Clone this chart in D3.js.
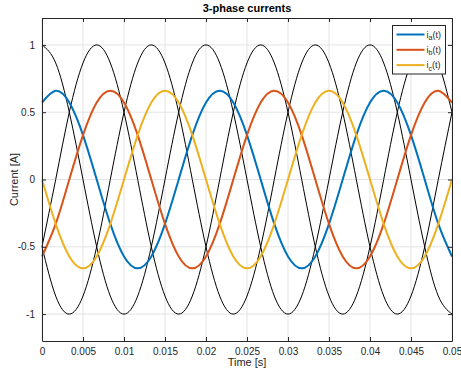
<!DOCTYPE html>
<html>
<head>
<meta charset="utf-8">
<script src="https://cdn.jsdelivr.net/npm/d3@7"></script>
<style>
  body { margin: 0; background: #fff; }
  svg { font-family: "Liberation Sans", Arial, Helvetica, sans-serif; }
</style>
</head>
<body>
<div id="chart"></div>
<script>
// chart size
var svgWidth = 461;
var svgHeight = 370;
var margin = { top: 18, right: 9, bottom: 29, left: 42 };
var chartWidth = svgWidth - margin.left - margin.right;
var chartHeight = svgHeight - margin.top - margin.bottom;

// data - samples every 1/600 s (30 deg of a 50 Hz wave)
var time = [0, 0.00167, 0.00333, 0.005, 0.00667, 0.00833, 0.01, 0.01167, 0.01333, 0.015,
    0.01667, 0.01833, 0.02, 0.02167, 0.02333, 0.025, 0.02667, 0.02833, 0.03, 0.03167,
    0.03333, 0.035, 0.03667, 0.03833, 0.04, 0.04167, 0.04333, 0.045, 0.04667, 0.04833, 0.05];

// black reference curves (amplitude 1)
var refA = [1, 0.866, 0.5, 0, -0.5, -0.866, -1, -0.866, -0.5, 0, 0.5, 0.866,
    1, 0.866, 0.5, 0, -0.5, -0.866, -1, -0.866, -0.5, 0, 0.5, 0.866,
    1, 0.866, 0.5, 0, -0.5, -0.866, -1];
var refB = [-0.5, 0, 0.5, 0.866, 1, 0.866, 0.5, 0, -0.5, -0.866, -1, -0.866,
    -0.5, 0, 0.5, 0.866, 1, 0.866, 0.5, 0, -0.5, -0.866, -1, -0.866,
    -0.5, 0, 0.5, 0.866, 1, 0.866, 0.5];
var refC = [-0.5, -0.866, -1, -0.866, -0.5, 0, 0.5, 0.866, 1, 0.866, 0.5, 0,
    -0.5, -0.866, -1, -0.866, -0.5, 0, 0.5, 0.866, 1, 0.866, 0.5, 0,
    -0.5, -0.866, -1, -0.866, -0.5, 0, 0.5];

// phase currents
var ia = [0.572, 0.66, 0.572, 0.33, 0, -0.33, -0.572, -0.66, -0.572, -0.33, 0, 0.33,
    0.572, 0.66, 0.572, 0.33, 0, -0.33, -0.572, -0.66, -0.572, -0.33, 0, 0.33,
    0.572, 0.66, 0.572, 0.33, 0, -0.33, -0.572];
var ib = [-0.572, -0.33, 0, 0.33, 0.572, 0.66, 0.572, 0.33, 0, -0.33, -0.572, -0.66,
    -0.572, -0.33, 0, 0.33, 0.572, 0.66, 0.572, 0.33, 0, -0.33, -0.572, -0.66,
    -0.572, -0.33, 0, 0.33, 0.572, 0.66, 0.572];
var ic = [0, -0.33, -0.572, -0.66, -0.572, -0.33, 0, 0.33, 0.572, 0.66, 0.572, 0.33,
    0, -0.33, -0.572, -0.66, -0.572, -0.33, 0, 0.33, 0.572, 0.66, 0.572, 0.33,
    0, -0.33, -0.572, -0.66, -0.572, -0.33, 0];

var xTicks = [0, 0.005, 0.01, 0.015, 0.02, 0.025, 0.03, 0.035, 0.04, 0.045, 0.05];
var yTicks = [-1, -0.5, 0, 0.5, 1];
var seriesNames = ["a", "b", "c"];
var seriesColors = ["#0072BD", "#D95319", "#EDB120"];

var axisColor = "#262626";

var svg = d3.select("#chart")
    .append("svg")
    .attr("width", svgWidth)
    .attr("height", svgHeight);

var chartGroup = svg.append("g")
    .attr("transform", `translate(${margin.left}, ${margin.top})`);

// scales
var xScale = d3.scaleLinear().domain([0, 0.05]).range([0, chartWidth]);
var yScale = d3.scaleLinear().domain([-1.2, 1.2]).range([chartHeight, 0]);

// grid
chartGroup.append("g")
    .selectAll("line")
    .data(xTicks)
    .enter()
    .append("line")
    .attr("x1", d => xScale(d)).attr("x2", d => xScale(d))
    .attr("y1", 0).attr("y2", chartHeight)
    .attr("stroke", "#e3e3e3")
    .attr("stroke-width", 1);
chartGroup.append("g")
    .selectAll("line")
    .data(yTicks)
    .enter()
    .append("line")
    .attr("x1", 0).attr("x2", chartWidth)
    .attr("y1", d => yScale(d)).attr("y2", d => yScale(d))
    .attr("stroke", "#e3e3e3")
    .attr("stroke-width", 1);

// curves
function makeLine(values) {
    return d3.line()
        .x((d, i) => xScale(time[i]))
        .y(d => yScale(d))
        .curve(d3.curveNatural)(values);
}

var plotGroup = chartGroup.append("g");
[refA, refB, refC].forEach(function (vals) {
    plotGroup.append("path")
        .attr("d", makeLine(vals))
        .attr("fill", "none")
        .attr("stroke", "#000")
        .attr("stroke-width", 1);
});
[ia, ib, ic].forEach(function (vals, i) {
    plotGroup.append("path")
        .attr("d", makeLine(vals))
        .attr("fill", "none")
        .attr("stroke", seriesColors[i])
        .attr("stroke-width", 2);
});

// axes (ticks inside, box on)
var fmt = d => String(d);
var bottomAxis = d3.axisBottom(xScale).tickValues(xTicks).tickFormat(fmt).tickSizeInner(-4).tickSizeOuter(0).tickPadding(7);
var topAxis = d3.axisTop(xScale).tickValues(xTicks).tickFormat("").tickSizeInner(-4).tickSizeOuter(0);
var leftAxis = d3.axisLeft(yScale).tickValues(yTicks).tickFormat(fmt).tickSizeInner(-4).tickSizeOuter(0).tickPadding(7);
var rightAxis = d3.axisRight(yScale).tickValues(yTicks).tickFormat("").tickSizeInner(-4).tickSizeOuter(0);

var xAxis = chartGroup.append("g")
    .attr("transform", `translate(0, ${chartHeight})`)
    .call(bottomAxis);
var xAxisTop = chartGroup.append("g").call(topAxis);
var yAxis = chartGroup.append("g").call(leftAxis);
var yAxisRight = chartGroup.append("g")
    .attr("transform", `translate(${chartWidth}, 0)`)
    .call(rightAxis);

[xAxis, xAxisTop, yAxis, yAxisRight].forEach(function (ax) {
    ax.select(".domain").attr("stroke", axisColor).attr("stroke-width", 1);
    ax.selectAll(".tick line").attr("stroke", axisColor);
    ax.selectAll(".tick text")
        .attr("fill", axisColor)
        .style("font-size", "10px")
        .style("font-family", "'Liberation Sans', Arial, sans-serif");
});

// labels
chartGroup.append("text")
    .attr("x", chartWidth / 2)
    .attr("y", -6)
    .attr("text-anchor", "middle")
    .attr("font-weight", "bold")
    .attr("font-size", "11px")
    .attr("fill", "#000")
    .text("3-phase currents");

chartGroup.append("text")
    .attr("x", chartWidth / 2)
    .attr("y", chartHeight + 25)
    .attr("text-anchor", "middle")
    .attr("font-size", "11px")
    .attr("fill", axisColor)
    .text("Time [s]");

chartGroup.append("text")
    .attr("transform", "rotate(-90)")
    .attr("x", -chartHeight / 2)
    .attr("y", -24)
    .attr("text-anchor", "middle")
    .attr("font-size", "11px")
    .attr("fill", axisColor)
    .text("Current [A]");

// legend
var legend = svg.append("g")
    .attr("transform", "translate(392.5, 25.5)");
legend.append("rect")
    .attr("width", 53)
    .attr("height", 48.5)
    .attr("fill", "#fff")
    .attr("stroke", axisColor)
    .attr("stroke-width", 1);

seriesNames.forEach(function (name, i) {
    var yy = 9 + i * 15.3;
    legend.append("line")
        .attr("x1", 4).attr("x2", 32)
        .attr("y1", yy).attr("y2", yy)
        .attr("stroke", seriesColors[i])
        .attr("stroke-width", 2);
    var t = legend.append("text")
        .attr("x", 34)
        .attr("y", yy + 3)
        .attr("font-size", "9px")
        .attr("fill", axisColor);
    t.append("tspan").text("i");
    t.append("tspan").attr("dy", 2.5).attr("font-size", "7px").text(name);
    t.append("tspan").attr("dy", -2.5).text("(t)");
});
</script>
</body>
</html>
